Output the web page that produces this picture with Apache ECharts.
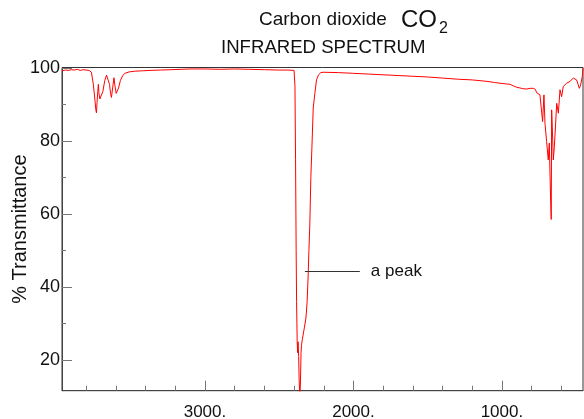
<!DOCTYPE html>
<html>
<head>
  <meta charset="UTF-8">
  <title>Carbon dioxide IR spectrum</title>
  <script src="https://cdn.jsdelivr.net/npm/echarts/dist/echarts.min.js"></script>
  <style>
    html, body { margin: 0; padding: 0; background: #fff; }
    #main { width: 584px; height: 419px; }
  </style>
</head>
<body>
  <div id="main"></div>
  <script type="text/javascript">
    // wavenumber (cm-1), high to low
    var wavenumber = [
      3963, 3940, 3920, 3900, 3880, 3860, 3840, 3820, 3800, 3780,
      3765, 3752, 3742, 3735, 3731, 3727, 3722, 3718, 3714, 3708,
      3697, 3688, 3675, 3663, 3653, 3643, 3636, 3630, 3622, 3613,
      3606, 3598, 3592, 3582, 3570, 3555, 3540, 3510, 3470, 3420,
      3370, 3300, 3230, 3160, 3100, 3000, 2900, 2800, 2700, 2600,
      2500, 2440, 2400,
      2397, 2394, 2390, 2386, 2383, 2379, 2376, 2373, 2369, 2366,
      2361, 2357, 2353, 2350, 2345, 2339, 2330, 2320, 2312, 2305,
      2300, 2294, 2287, 2280, 2271, 2260, 2249, 2235, 2220, 2204,
      2100, 2000, 1900, 1800, 1700, 1600, 1500, 1400, 1300, 1200,
      1148, 1100, 1050, 1013, 970, 946, 920, 901, 879, 860,
      833, 810, 789, 775, 766, 755, 744, 732, 726, 717,
      710, 699, 688, 681, 672, 668, 665, 658, 654, 647,
      631, 620, 609, 598, 587, 564, 542, 530, 519, 508,
      497, 487, 479, 470, 459, 454
    ];
    // % transmittance at each wavenumber
    var transmittance = [
      99.2, 99.4, 99.3, 99.5, 99.4, 99.6, 99.3, 99.5, 99.4, 99.3,
      98.8, 95.5, 91.5, 88.5, 87.7, 90.5, 93.5, 95.5, 93.0, 91.5,
      91.0, 93.5, 96.5, 98.0, 98.3, 95.5, 93.0, 91.9, 94.5, 97.3,
      95.0, 93.0, 92.6, 94.5, 96.5, 97.8, 98.5, 98.9, 99.1, 99.2,
      99.3, 99.4, 99.5, 99.6, 99.7, 99.7, 99.6, 99.7, 99.6, 99.5,
      99.4, 99.4, 99.3,
      99.2, 95.0, 75.0, 50.0, 36.0, 25.0, 22.0, 25.0, 21.0, 15.0,
      9.0, 14.0, 22.0, 24.0, 25.5, 26.0, 29.0, 31.5, 36.0, 43.3,
      50.0, 57.0, 70.0, 78.0, 89.0, 93.0, 96.7, 98.1, 98.7, 98.8,
      98.7, 98.5, 98.3, 98.1, 97.9, 97.7, 97.5, 97.2, 96.9, 96.7,
      96.5, 96.3, 96.0, 95.8, 95.6, 95.5, 95.0, 94.7, 94.5, 94.3,
      94.2, 94.4, 94.4, 94.1, 93.2, 92.9, 92.6, 92.1, 85.3, 92.6,
      84.8, 79.8, 74.8, 79.4, 63.8, 58.5, 88.5, 80.3, 74.8, 78.4,
      90.3, 87.6, 94.0, 92.1, 94.9, 95.8, 96.3, 96.8, 97.2, 96.9,
      96.7, 95.5, 94.4, 95.3, 97.6, 100
    ];

    var xMajorTicks = [1000, 2000, 3000];
    var xMinorTicks = [600, 800, 1200, 1400, 1600, 1800, 2200, 2400, 2600, 2800, 3200, 3400, 3600, 3800];
    var yMajorTicks = [20, 40, 60, 80, 100];
    var yMinorTicks = [30, 50, 70, 90];
    // "a peak" pointer line, data coords
    var peakNote = [[2327, 44.2], [1957, 44.2]];

    var xRange = [454, 3963];
    var yRange = [11.6, 100.1];

    var points = [];
    for (var i = 0; i < wavenumber.length; i++) {
      points.push([wavenumber[i], transmittance[i]]);
    }

    var font = 'Liberation Sans, Arial, sans-serif';
    var myChart = echarts.init(document.getElementById('main'));

    var option = {
      animation: false,
      backgroundColor: '#fff',
      title: [
        { text: 'Carbon dioxide', left: 259, top: 10, padding: 0,
          textStyle: { fontFamily: font, fontSize: 19, fontWeight: 'normal', color: '#111' } },
        { text: 'CO', left: 401, top: 8, padding: 0,
          textStyle: { fontFamily: font, fontSize: 24, fontWeight: 'normal', color: '#111' } },
        { text: '2', left: 439, top: 21, padding: 0,
          textStyle: { fontFamily: font, fontSize: 16, fontWeight: 'normal', color: '#111' } },
        { text: 'INFRARED SPECTRUM', left: 221, top: 38, padding: 0,
          textStyle: { fontFamily: font, fontSize: 18.6, fontWeight: 'normal', color: '#111' } }
      ],
      grid: {
        left: 62, right: 1, top: 67.5, bottom: 28.3,
        outerBoundsMode: 'none',
        show: true, borderColor: '#333', borderWidth: 1
      },
      xAxis: [
        {
          type: 'value', inverse: true, min: xRange[0], max: xRange[1],
          position: 'bottom',
          axisLine: { lineStyle: { color: '#444' } },
          axisTick: { inside: true, length: 10, customValues: xMajorTicks, lineStyle: { color: '#777' } },
          axisLabel: {
            customValues: xMajorTicks, margin: 13,
            fontFamily: font, fontSize: 17, color: '#111',
            formatter: function (v) { return v + '.'; }
          },
          splitLine: { show: false }
        },
        {
          type: 'value', inverse: true, min: xRange[0], max: xRange[1],
          position: 'bottom', offset: 0,
          axisLine: { show: false },
          axisTick: { inside: true, length: 5, customValues: xMinorTicks, lineStyle: { color: '#777' } },
          axisLabel: { show: false },
          splitLine: { show: false }
        }
      ],
      yAxis: [
        {
          type: 'value', min: yRange[0], max: yRange[1],
          position: 'left',
          name: '% Transmittance', nameLocation: 'middle', nameRotate: 90, nameGap: 32,
          nameMoveOverlap: false,
          nameTextStyle: { fontFamily: font, fontSize: 20, color: '#111' },
          axisLine: { show: true, lineStyle: { color: '#444' } },
          axisTick: { inside: true, length: 10, customValues: yMajorTicks, lineStyle: { color: '#777' } },
          axisLabel: { customValues: yMajorTicks, margin: 2, fontFamily: font, fontSize: 18, color: '#111' },
          splitLine: { show: false }
        },
        {
          type: 'value', min: yRange[0], max: yRange[1],
          position: 'left', offset: 0,
          axisLine: { show: false },
          axisTick: { inside: true, length: 4, customValues: yMinorTicks, lineStyle: { color: '#777' } },
          axisLabel: { show: false },
          splitLine: { show: false }
        }
      ],
      series: [
        {
          type: 'line',
          data: points,
          showSymbol: false,
          lineStyle: { color: '#ff0000', width: 1 },
          itemStyle: { color: '#ff0000' },
          markLine: {
            silent: true,
            symbol: 'none',
            lineStyle: { color: '#333', width: 1, type: 'solid' },
            label: {
              show: true, position: 'end', distance: 11,
              formatter: 'a peak',
              fontFamily: font, fontSize: 17, color: '#111'
            },
            data: [[{ coord: peakNote[0] }, { coord: peakNote[1] }]]
          }
        }
      ]
    };
    myChart.setOption(option);
  </script>
</body>
</html>
